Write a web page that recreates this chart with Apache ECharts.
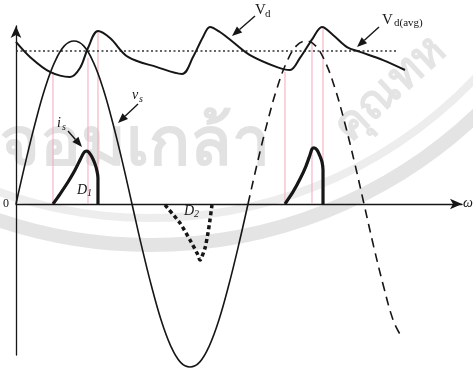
<!DOCTYPE html>
<html>
<head>
<meta charset="utf-8">
<script src="https://cdn.jsdelivr.net/npm/echarts@6/dist/echarts.min.js"></script>
<style>
  html, body { margin: 0; padding: 0; background: #fff; }
  #chart { width: 473px; height: 370px; }
</style>
</head>
<body>
<div id="chart"></div>
<script>
// Supply voltage v_s (per-unit of its peak) against ωt in degrees.
const vsAngles  = [0, 15, 30, 45, 60, 75, 90, 105, 120, 135, 150, 165, 180,
                   195, 210, 225, 240, 255, 270, 285, 300, 315, 330, 345, 360];
const vsValues  = [0, 0.26, 0.5, 0.71, 0.87, 0.97, 1.0, 0.97, 0.87, 0.71, 0.5, 0.26, 0,
                   -0.26, -0.5, -0.71, -0.87, -0.97, -1.0, -0.97, -0.87, -0.71, -0.5, -0.26, 0];
// Next cycle of v_s, drawn dashed.
const vsNextAngles = [360, 375, 390, 405, 420, 435, 450, 465, 480, 495, 510, 525, 540, 555, 570, 585, 596];
const vsNextValues = [0, 0.26, 0.5, 0.71, 0.87, 0.97, 1.0, 0.97, 0.87, 0.71, 0.5, 0.26, 0, -0.26, -0.5, -0.71, -0.8];

// Rectified DC-link voltage V_d with its capacitor ripple.
const vdAngles = [0, 21.7, 52.8, 83.8, 99.3, 111.7, 127.2, 145.9, 173.8, 218.8, 257.6, 274.7, 290.2,
                  301.0, 316.5, 336.7, 363.1, 405.0, 425.2, 440.7, 460.8, 474.8, 491.9, 513.6, 533.8, 569.5, 603.6];
const vdValues = [0.994, 0.902, 0.810, 0.779, 0.834, 0.957, 1.061, 1.018, 0.902, 0.840, 0.798, 0.902, 1.025,
                  1.086, 1.055, 0.994, 0.914, 0.840, 0.822, 0.896, 1.018, 1.086, 1.037, 0.963, 0.933, 0.883, 0.822];

// Average value V_d(avg).
const vdAvg = 0.939;
const vdAvgSpan = [0, 591];

// Line current i_s pulses while D1 conducts (positive half-cycles).
const is1Angles = [57.4, 68.3, 80.7, 91.6, 99.3, 104.0, 107.1, 110.2, 113.3, 117.9, 122.6, 125.7, 127.2, 127.2];
const is1Values = [0, 0.061, 0.135, 0.209, 0.270, 0.307, 0.322, 0.325, 0.316, 0.288, 0.245, 0.202, 0.160, 0];
const is2Angles = [417.4, 429.8, 440.7, 450.0, 456.2, 459.3, 462.4, 467.1, 471.7, 474.8, 476.4, 476.4];
const is2Values = [0, 0.074, 0.153, 0.233, 0.301, 0.337, 0.344, 0.331, 0.294, 0.258, 0.209, 0];
// Negative pulse while D2 conducts.
const d2Angles = [231.2, 254.5, 270.0, 280.9, 285.5, 293.3, 297.9, 301.0, 304.1];
const d2Values = [-0.006, -0.117, -0.221, -0.301, -0.344, -0.270, -0.178, -0.098, -0.006];

// Conduction markers (start, peak, end of each D1 pulse).
const markerAngles = [57.4, 111.7, 127.2, 417.4, 459.3, 476.4];
const markerTops   = [0.81, 0.896, 1.061, 0.81, 1.0, 1.08];

// Plot layout (pixels)
const PX_PER_DEG = 116 / 180;
const PX_PER_UNIT = 163;
const X0 = 16, Y0 = 204, AX_RIGHT = 462, AX_TOP = 26, AX_BOTTOM = 355, W = 473, H = 370;

const ink = '#161616';
const pink = '#f2a9ba';

function pairs(xs, ys) { return xs.map((x, i) => [x, ys[i]]); }

const series = [];
markerAngles.forEach((a, i) => {
  series.push({
    type: 'line', data: [[a, 0], [a, markerTops[i]]], symbol: 'none', clip: false, silent: true,
    lineStyle: { color: pink, width: 1 }, z: 1
  });
});
series.push(
  { type: 'line', data: [[vdAvgSpan[0], vdAvg], [vdAvgSpan[1], vdAvg]], symbol: 'none', clip: false,
    lineStyle: { color: '#333', width: 1.5, type: [2, 2.5] }, z: 2 },
  { type: 'line', data: pairs(vsAngles, vsValues), symbol: 'none', smooth: 0.4, clip: false,
    lineStyle: { color: ink, width: 1.6 }, z: 3 },
  { type: 'line', data: pairs(vsNextAngles, vsNextValues), symbol: 'none', smooth: 0.4, clip: false,
    lineStyle: { color: ink, width: 1.6, type: [9, 6] }, z: 3 },
  { type: 'line', data: pairs(vdAngles, vdValues), symbol: 'none', smooth: 0.35, clip: false,
    lineStyle: { color: ink, width: 2 }, z: 4 },
  { type: 'line', data: pairs(is1Angles, is1Values), symbol: 'none', smooth: 0.2, clip: false,
    lineStyle: { color: ink, width: 3.2, join: 'round' }, z: 5 },
  { type: 'line', data: pairs(is2Angles, is2Values), symbol: 'none', smooth: 0.2, clip: false,
    lineStyle: { color: ink, width: 3.2, join: 'round' }, z: 5 },
  { type: 'line', data: pairs(d2Angles, d2Values), symbol: 'none', smooth: 0.2, clip: false,
    lineStyle: { color: ink, width: 3.5, type: [4, 3] }, z: 5 }
);

// Annotation arrows with filled heads
function arrow(x1, y1, x2, y2) {
  const ang = Math.atan2(y2 - y1, x2 - x1);
  const len = 10, half = 4;
  const bx = x2 - len * Math.cos(ang), by = y2 - len * Math.sin(ang);
  const nx = -Math.sin(ang) * half, ny = Math.cos(ang) * half;
  return [
    { type: 'line', shape: { x1, y1, x2: bx, y2: by }, style: { stroke: ink, lineWidth: 1.4 }, z: 10 },
    { type: 'polygon', shape: { points: [[x2, y2], [bx + nx, by + ny], [bx - nx, by - ny]] },
      style: { fill: ink }, z: 10 }
  ];
}

function label(main, sub, x, y, size, italic, subDx, subDy) {
  const font = 'Liberation Serif, serif';
  const els = [{ type: 'text', x, y, z: 10,
    style: { text: main, fill: ink, font: (italic ? 'italic ' : '') + size + 'px ' + font } }];
  if (sub) {
    els.push({ type: 'text', x: x + subDx, y: y + subDy, z: 10,
      style: { text: sub, fill: ink, font: (italic ? 'italic ' : '') + Math.round(size * 0.7) + 'px ' + font } });
  }
  return els;
}

// Faint university seal behind the plot
const watermark = [
  { type: 'arc', shape: { cx: 150, cy: -230, r: 475, startAngle: 0, endAngle: Math.PI }, z: 0,
    style: { stroke: '#e4e4e4', fill: null, lineWidth: 14 } },
  { type: 'arc', shape: { cx: 150, cy: -230, r: 448, startAngle: 0.2, endAngle: Math.PI - 0.2 }, z: 0,
    style: { stroke: '#ededed', fill: null, lineWidth: 8 } },
  { type: 'text', x: 0, y: 112, z: 0,
    style: { text: 'จอมเกล้า', fill: '#e2e2e2', font: 'bold 68px Noto Sans, sans-serif' } },
  { type: 'text', x: 325, y: 118, rotation: 0.75, z: 0,
    style: { text: 'คุณทห', fill: '#e4e4e4', font: 'bold 46px Noto Sans, sans-serif' } }
];

const graphic = [].concat(
  watermark,
  arrow(255, 16, 232, 36),
  arrow(379, 27, 357, 47),
  arrow(138, 104, 118, 123),
  arrow(68, 131, 82, 147),
  label('V', 'd', 255, 3, 15, false, 10, 6),
  label('V', 'd(avg)', 382, 13, 15, false, 12, 5),
  label('v', 's', 132, 88, 14, true, 7, 6),
  label('i', 's', 57, 116, 14, true, 5, 6),
  label('D', '1', 77, 183, 14, true, 10, 5),
  label('D', '2', 184, 204, 14, true, 10, 5),
  label('0', null, 3, 198, 12, false),
  label('ω', null, 463, 196, 14, true)
);

const chart = echarts.init(document.getElementById('chart'), null, { renderer: 'canvas' });
chart.setOption({
  animation: false,
  backgroundColor: '#fff',
  grid: { left: X0, right: W - AX_RIGHT, top: AX_TOP, bottom: H - AX_BOTTOM },
  xAxis: {
    type: 'value', min: 0, max: (AX_RIGHT - X0) / PX_PER_DEG,
    axisLine: { show: true, onZero: true, symbol: ['none', 'arrow'], symbolSize: [8, 12],
                lineStyle: { color: ink, width: 1.3 } },
    axisTick: { show: false }, axisLabel: { show: false }, splitLine: { show: false }
  },
  yAxis: {
    type: 'value', min: (Y0 - AX_BOTTOM) / PX_PER_UNIT, max: (Y0 - AX_TOP) / PX_PER_UNIT,
    axisLine: { show: true, onZero: true, symbol: ['none', 'arrow'], symbolSize: [8, 12],
                lineStyle: { color: ink, width: 1.3 } },
    axisTick: { show: false }, axisLabel: { show: false }, splitLine: { show: false }
  },
  series,
  graphic
});
</script>
</body>
</html>
